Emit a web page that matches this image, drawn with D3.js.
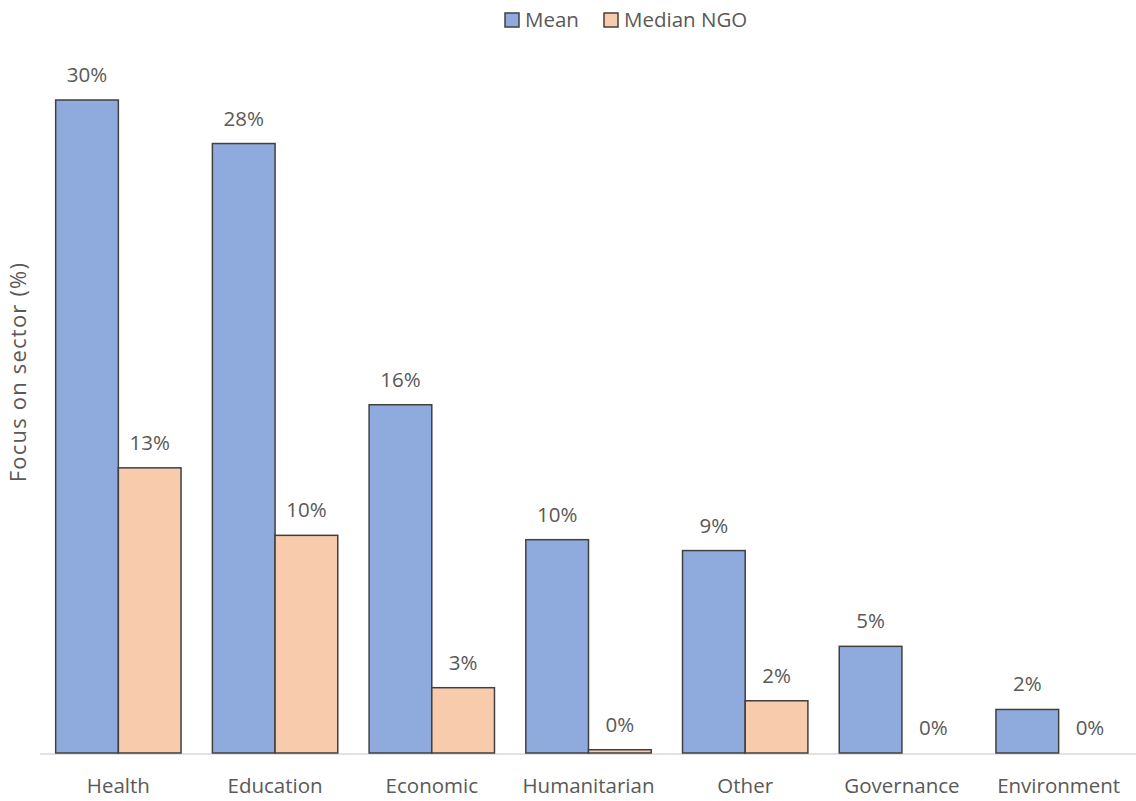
<!DOCTYPE html>
<html>
<head>
<meta charset="utf-8">
<script src="https://cdn.jsdelivr.net/npm/d3@7"></script>
<style>
  html, body { margin: 0; padding: 0; background: #fff; }
  text { font-family: "Open Sans", "Noto Sans", sans-serif; fill: #595959; }
</style>
</head>
<body>
<svg id="chart" width="1136" height="801"></svg>
<script>
// Sector focus of NGOs: mean share vs. median NGO share
const categories = ["Health", "Education", "Economic", "Humanitarian", "Other", "Governance", "Environment"];
const seriesNames = ["Mean", "Median NGO"];
const meanValues = [0.300, 0.280, 0.160, 0.098, 0.093, 0.049, 0.020];
const medianValues = [0.131, 0.100, 0.030, 0.0015, 0.024, 0, 0];
const seriesColors = ["#8FAADC", "#F8CBAD"];
const yTitle = "Focus on sector (%)";

const svg = d3.select("#chart");
const width = 1136;
const left = 40;
const baseY = 753;
const fontSize = 20.5;

const x0 = d3.scaleBand()
  .domain(categories)
  .range([left, 1137])
  .paddingInner(0.2)
  .paddingOuter(0.1);

const x1 = d3.scaleBand()
  .domain(seriesNames)
  .range([0, x0.bandwidth()]);

const y = d3.scaleLinear()
  .domain([0, 0.30])
  .range([baseY, 100]);

const rows = categories.map((c, i) => ({
  category: c,
  values: [
    { series: seriesNames[0], value: meanValues[i], color: seriesColors[0] },
    { series: seriesNames[1], value: medianValues[i], color: seriesColors[1] }
  ]
}));

const fmt = d3.format(".0%");

// baseline
svg.append("line")
  .attr("x1", left).attr("x2", width)
  .attr("y1", baseY + 1).attr("y2", baseY + 1)
  .attr("stroke", "#D9D9D9").attr("stroke-width", 1.5);

const groups = svg.selectAll("g.group")
  .data(rows)
  .join("g")
  .attr("class", "group")
  .attr("transform", d => `translate(${x0(d.category)},0)`);

groups.selectAll("rect")
  .data(d => d.values.filter(v => v.value > 0))
  .join("rect")
  .attr("x", d => x1(d.series))
  .attr("y", d => y(d.value))
  .attr("width", x1.bandwidth())
  .attr("height", d => baseY - y(d.value))
  .attr("fill", d => d.color)
  .attr("stroke", "#404040")
  .attr("stroke-width", 1.5);

groups.selectAll("text.value")
  .data(d => d.values)
  .join("text")
  .attr("class", "value")
  .attr("x", d => x1(d.series) + x1.bandwidth() / 2)
  .attr("y", d => y(d.value) - 18)
  .attr("text-anchor", "middle")
  .attr("font-size", fontSize)
  .text(d => fmt(d.value));

// category axis labels
const xAxis = d3.axisBottom(x0).tickSize(0).tickPadding(0);
const gx = svg.append("g")
  .attr("transform", `translate(0,${baseY})`)
  .call(xAxis);
gx.select(".domain").remove();
gx.selectAll("text")
  .attr("y", 40)
  .attr("dy", 0)
  .attr("font-size", fontSize)
  .attr("fill", "#595959")
  .attr("font-family", "\"Open Sans\", sans-serif");

// y axis title
svg.append("text")
  .attr("transform", `translate(26,372) rotate(-90)`)
  .attr("text-anchor", "middle")
  .attr("font-size", 22)
  .attr("letter-spacing", 1.2)
  .text(yTitle);

// legend
const legend = svg.append("g").attr("class", "legend");
const legendItems = [
  { name: seriesNames[0], color: seriesColors[0], x: 505 },
  { name: seriesNames[1], color: seriesColors[1], x: 604 }
];
const li = legend.selectAll("g")
  .data(legendItems)
  .join("g")
  .attr("transform", d => `translate(${d.x},13)`);
li.append("rect")
  .attr("width", 14).attr("height", 14)
  .attr("fill", d => d.color)
  .attr("stroke", "#404040")
  .attr("stroke-width", 1.5);
li.append("text")
  .attr("x", 20)
  .attr("y", 14)
  .attr("font-size", fontSize)
  .text(d => d.name);
</script>
</body>
</html>
